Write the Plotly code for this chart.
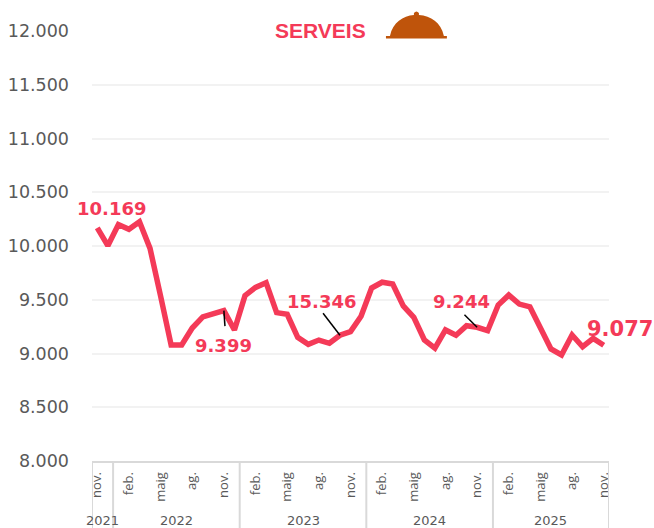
import plotly.graph_objects as go

values = [10169, 10003, 10200, 10155, 10226, 9978, 9535, 9079, 9079, 9237, 9340, 9367, 9399,
          9219, 9538, 9615, 9659, 9380, 9365, 9150, 9085, 9125, 9095, 9170, 9203,
          9346, 9609, 9663, 9647, 9442, 9337, 9126, 9050, 9219, 9170, 9258, 9244,
          9212, 9451, 9544, 9460, 9435, 9237, 9042, 8986, 9172, 9063, 9141, 9077]
tick_index = [0, 3, 6, 9, 12, 15, 18, 21, 24, 27, 30, 33, 36, 39, 42, 45, 48]
tick_labels = ["nov.", "feb.", "maig", "ag.", "nov.", "feb.", "maig", "ag.", "nov.",
               "feb.", "maig", "ag.", "nov.", "feb.", "maig", "ag.", "nov."]
years = ["2021", "2022", "2023", "2024", "2025"]
year_centers = [0.5, 7.5, 19.5, 31.5, 43]
year_bounds = [1.5, 13.5, 25.5, 37.5]
# index, text, xshift, yshift, size
labels = [(0, "10.169", 14, 19, 18), (12, "9.399", 0, -35, 18), (23, "15.346", -18, 34, 18),
          (36, "9.244", -16, 26, 18), (48, "9.077", 16, 16, 21)]
# leader lines: point index, other end in axis units
leaders = [(12, 12.1, 9255), (23, 21.4, 9375), (36, 34.8, 9360)]

RED = "#F43A58"
GREY = "#595959"
AXIS = "#D9D9D9"

x = list(range(len(values)))
fig = go.Figure(go.Scatter(x=x, y=values, mode="lines",
                           line=dict(color=RED, width=5.5, shape="linear"),
                           hoverinfo="x+y"))

annotations = []
for i, text, dx, dy, size in labels:
    annotations.append(dict(x=i, y=values[i], xref="x", yref="y", text=f"<b>{text}</b>",
                            showarrow=False, xshift=dx, yshift=dy, xanchor="center", yanchor="middle",
                            font=dict(family="DejaVu Sans", size=size, color=RED)))
for y_, c in zip(years, year_centers):
    annotations.append(dict(x=c, y=0, xref="x", yref="paper", text=y_, showarrow=False,
                            yshift=-59, xanchor="center", yanchor="middle", borderpad=0,
                            font=dict(family="DejaVu Sans", size=13, color=GREY)))
annotations.append(dict(x=0.4415, y=1, xref="paper", yref="paper", text="<b>SERVEIS</b>", showarrow=False,
                        xanchor="center", yanchor="middle", yshift=1,
                        font=dict(family="Liberation Sans", size=21, color=RED)))

shapes = []
for b in year_bounds + [-0.5, 48.5]:
    shapes.append(dict(type="line", x0=b, x1=b, xref="x", y0=0, y1=-67/430, yref="paper",
                       line=dict(color=AXIS, width=2)))
for i, ex, ey in leaders:
    shapes.append(dict(type="line", x0=i, x1=ex, y0=values[i], y1=ey, xref="x", yref="y",
                       line=dict(color="black", width=1.5)))
# cloche icon
H = 430.0
L, T = 91.7, 31.0
PW = 517.6
def px(v): return (v - L) / PW
def py(v): return 1 - (v - T) / H
dome = (f"M {px(390)} {py(36)} C {px(393)} {py(22)} {px(403)} {py(16)} {px(414)} {py(15)} "
        f"L {px(414)} {py(13)} Q {px(416.5)} {py(10)} {px(419)} {py(13)} L {px(419)} {py(15)} "
        f"C {px(431)} {py(16)} {px(441)} {py(22)} {px(444)} {py(36)} "
        f"L {px(447)} {py(36)} L {px(447)} {py(38.5)} L {px(386)} {py(38.5)} L {px(386)} {py(36)} Z")
shapes.append(dict(type="path", path=dome, xref="paper", yref="paper",
                   fillcolor="#BF540B", line=dict(width=0), layer="above"))

fig.update_layout(
    width=654, height=528, autosize=False,
    margin=dict(l=91.7, r=44.7, t=31, b=67, pad=0, autoexpand=False),
    paper_bgcolor="white", plot_bgcolor="white",
    showlegend=False, separators=",.",
    annotations=annotations, shapes=shapes,
    xaxis=dict(range=[-0.5, 48.5], tickmode="array", tickvals=tick_index, ticktext=tick_labels,
               tickangle=-90, showgrid=False, zeroline=False, showline=True,
               linecolor=AXIS, linewidth=2, ticks="", ticklabelstandoff=4,
               tickfont=dict(family="Open Sans", size=13, color=GREY)),
    yaxis=dict(range=[8000, 12000], tickmode="linear", tick0=8000, dtick=500, tickformat=",d",
               showgrid=True, gridcolor="#F2F2F2", gridwidth=2, zeroline=False, showline=False,
               ticks="", ticklabelstandoff=22,
               tickfont=dict(family="DejaVu Sans", size=17.5, color=GREY)),
)
fig.write_html("out.html", post_script="document.body.style.margin='0';",
               config=dict(displayModeBar=False))
